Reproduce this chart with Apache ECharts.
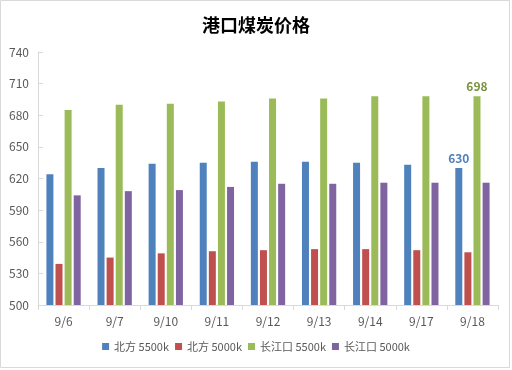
<!DOCTYPE html>
<html>
<head>
<meta charset="utf-8">
<script src="https://cdn.jsdelivr.net/npm/echarts@6/dist/echarts.min.js"></script>
<style>
html,body{margin:0;padding:0;background:#fff;}
#c{width:512px;height:370px;}
</style>
</head>
<body>
<div id="c"></div>
<script>
var categories = ['9/6','9/7','9/10','9/11','9/12','9/13','9/14','9/17','9/18'];
var north5500 = [624, 630, 634, 635, 636, 636, 635, 633, 630];
var north5000 = [539, 545, 549, 551, 552, 553, 553, 552, 550];
var cj5500 = [685, 690, 691, 693, 696, 696, 698, 698, 698];
var cj5000 = [604, 608, 609, 612, 615, 615, 616, 616, 616];
var seriesNames = ['北方 5500k', '北方 5000k', '长江口 5500k', '长江口 5000k'];
var yTicks = {min: 500, max: 740, interval: 30};

var colors = ['#4F81BD', '#C0504D', '#9BBB59', '#8064A2'];
var font = "'Noto Sans CJK SC', 'Liberation Sans', sans-serif";
var lastIdx = categories.length - 1;

function mkSeries(name, data, color, labelColor) {
  return {
    name: name,
    type: 'bar',
    barWidth: 7,
    barGap: '30%',
    itemStyle: {color: color},
    data: data.map(function (v, i) {
      var d = {value: v};
      if (labelColor && i === lastIdx) {
        d.label = {show: true, position: 'top', distance: 4, color: labelColor,
          fontWeight: 'bold', fontSize: 12, fontFamily: font};
      }
      return d;
    })
  };
}

var chart = echarts.init(document.getElementById('c'));
chart.setOption({
  animation: false,
  backgroundColor: '#fff',
  title: {
    text: '港口煤炭价格', left: 'center', top: 11,
    textStyle: {fontSize: 18, fontWeight: 'bold', color: '#000', fontFamily: font}
  },
  graphic: [{
    type: 'rect', shape: {x: 0.5, y: 0.5, width: 509, height: 367},
    style: {fill: 'none', stroke: '#D9D9D9', lineWidth: 1}, silent: true
  }],
  legend: {
    bottom: 13, left: 'center',
    itemWidth: 7, itemHeight: 7, itemGap: 6,
    textStyle: {fontSize: 11, color: '#595959', fontFamily: font},
    icon: 'rect',
    data: seriesNames
  },
  grid: {left: 38, right: 14, top: 52, bottom: 65, containLabel: false},
  xAxis: {
    type: 'category', data: categories,
    axisLine: {lineStyle: {color: '#D9D9D9'}},
    axisTick: {show: true, length: 5, lineStyle: {color: '#D9D9D9'}},
    axisLabel: {color: '#595959', fontSize: 12, margin: 10, fontFamily: font}
  },
  yAxis: {
    type: 'value', min: yTicks.min, max: yTicks.max, interval: yTicks.interval,
    axisLine: {show: true, lineStyle: {color: '#D9D9D9'}},
    axisTick: {show: true, inside: true, length: 5, lineStyle: {color: '#D9D9D9'}},
    splitLine: {show: false},
    axisLabel: {color: '#595959', fontSize: 12, margin: 9, fontFamily: font}
  },
  series: [
    mkSeries(seriesNames[0], north5500, colors[0], '#4F81BD'),
    mkSeries(seriesNames[1], north5000, colors[1]),
    mkSeries(seriesNames[2], cj5500, colors[2], '#77933C'),
    mkSeries(seriesNames[3], cj5000, colors[3])
  ]
});
</script>
</body>
</html>
